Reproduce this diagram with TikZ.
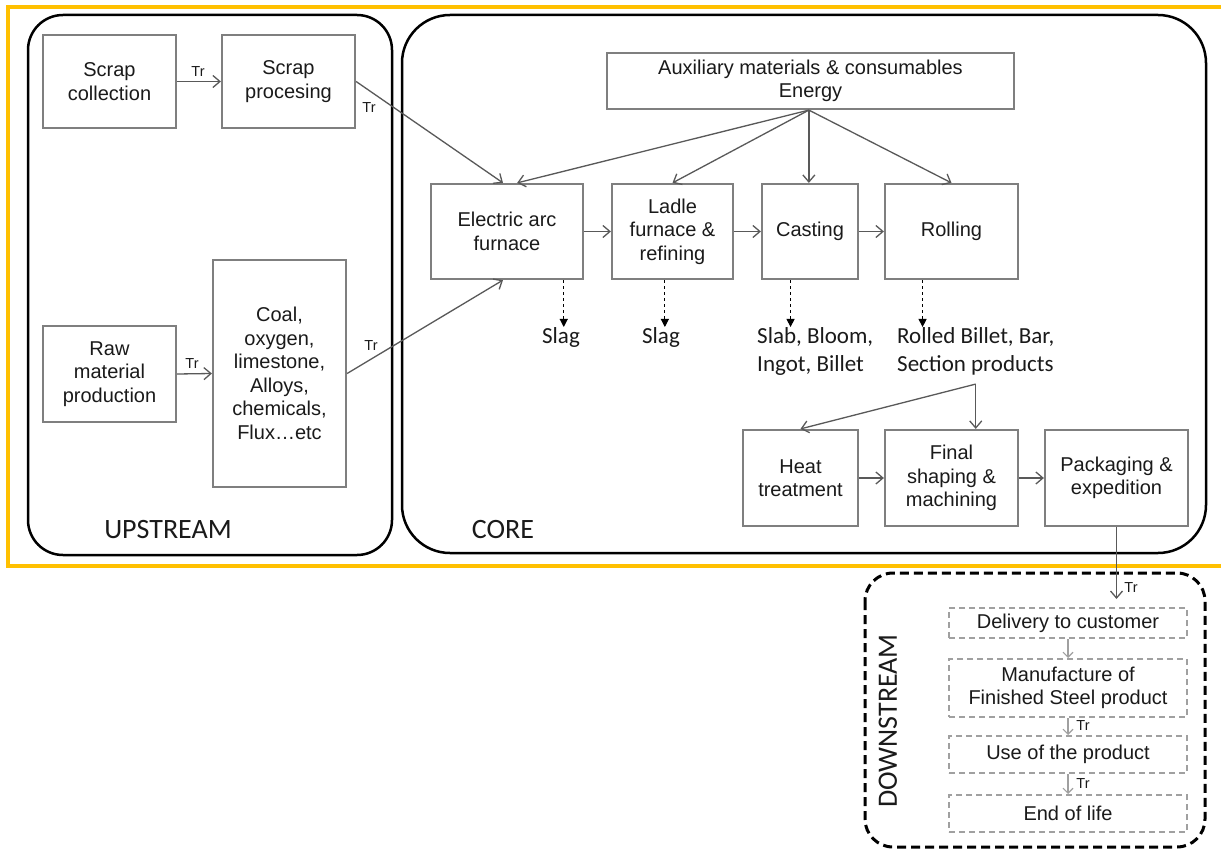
\documentclass[tikz,border=0pt]{standalone}
\usepackage{fontspec}
\setmainfont{Liberation Sans}
\newfontfamily\calfont{Carlito}
\usetikzlibrary{arrows.meta,calc}
\definecolor{orangeY}{HTML}{FFC000}
\definecolor{boxgray}{HTML}{7F7F7F}
\definecolor{linegray}{HTML}{595959}
\definecolor{lightg}{HTML}{A0A0A0}
\definecolor{txt}{HTML}{1A1A1A}
\begin{document}
\begin{tikzpicture}[x=1pt,y=-1pt,
 box/.style={draw=boxgray, line width=2.2pt, align=center, font=\fontsize{20}{23.5}\selectfont, text=txt, inner sep=1pt},
 arr/.style={draw=linegray, line width=1.3pt, -{Straight Barb[length=7pt,width=12pt,line width=1.3pt]}},
 darr/.style={draw=black, line width=1.1pt, dashed, -{Triangle[length=8pt,width=8pt]}},
 trl/.style={font=\fontsize{14.5}{16}\selectfont, text=txt, inner sep=0pt},
 cal/.style={font=\calfont\fontsize{23}{28}\selectfont, text=txt, inner sep=0pt},
 biglbl/.style={font=\calfont\fontsize{28}{32}\selectfont, text=txt, inner sep=0pt},
 regionbox/.style={draw=black, line width=2.5pt},
 dbox/.style={draw=lightg, line width=2pt, dash pattern=on 6pt off 4pt, align=center, font=\fontsize{20}{23}\selectfont, text=txt, inner sep=1pt},
 darrl/.style={draw=lightg, line width=1.1pt, -{Straight Barb[length=5pt,width=10pt,line width=1.1pt]}},
]
\fill[white] (0,0) rectangle (1221,850);
\useasboundingbox (0,0) rectangle (1221,850);

% orange frame (open at the right edge)
\draw[draw=orangeY, line width=4.5pt] (1221,7) -- (8,7) -- (8,566) -- (1221,566);

% regions
\draw[regionbox, rounded corners=35pt] (28,15) rectangle (392,555);
\draw[regionbox, rounded corners=48pt] (402,15) rectangle (1206,553);
\draw[draw=black, line width=3pt, dash pattern=on 9pt off 5pt, rounded corners=28pt] (865,573) rectangle (1205,847);

\node[biglbl] (uplbl) at (168,530) {UPSTREAM};
\node[biglbl] (corelbl) at (503,530) {CORE};
\node[biglbl, rotate=90] (dslbl) at (888,721) {DOWNSTREAM};

% upstream boxes
\node[box, minimum width=133pt, minimum height=93pt] (sc) at (109.5,81.5) {Scrap\\collection};
\node[box, minimum width=133pt, minimum height=93pt] (sp) at (288.5,81.5) {Scrap\\procesing};
\node[box, minimum width=133pt, minimum height=96pt] (raw) at (109.5,374) {Raw\\material\\production};
\node[box, minimum width=133pt, minimum height=227pt] (coal) at (279.5,373.5) {Coal,\\oxygen,\\limestone,\\Alloys,\\chemicals,\\Flux…etc};

% core boxes
\node[box, minimum width=407pt, minimum height=56pt] (aux) at (810.5,81) {Auxiliary materials \& consumables\\Energy};
\node[box, minimum width=152pt, minimum height=95pt] (eaf) at (507,231.5) {Electric arc\\furnace};
\node[box, minimum width=121pt, minimum height=95pt] (ladle) at (672.5,231.5) {Ladle\\furnace \&\\refining};
\node[box, minimum width=96pt, minimum height=95pt] (cast) at (810,231.5) {Casting};
\node[box, minimum width=133pt, minimum height=95pt] (roll) at (951.5,231.5) {Rolling};
\node[box, minimum width=115pt, minimum height=96pt] (heat) at (800.5,478) {Heat\\treatment};
\node[box, minimum width=133pt, minimum height=96pt] (final) at (951.5,478) {Final\\shaping \&\\machining};
\node[box, minimum width=143pt, minimum height=96pt] (pack) at (1116.5,478) {Packaging \&\\expedition};

% outputs
\node[cal, anchor=north] (slag1) at (561,327) {Slag};
\node[cal, anchor=north] (slag2) at (661,327) {Slag};
\node[cal, anchor=north west, align=left] (slab) at (757,327) {Slab, Bloom,\\Ingot, Billet};
\node[cal, anchor=north west, align=left] (rolled) at (897,327) {Rolled Billet, Bar,\\Section products};

% downstream boxes
\node[dbox, minimum width=238pt, minimum height=30pt] (deliv) at (1068,623) {Delivery to customer};
\node[dbox, minimum width=238pt, minimum height=58pt] (manuf) at (1068,688) {Manufacture of\\Finished Steel product};
\node[dbox, minimum width=238pt, minimum height=37pt] (use) at (1068,754.5) {Use of the product};
\node[dbox, minimum width=238pt, minimum height=37pt] (eol) at (1068,813.5) {End of life};

% upstream connectors
\draw[arr] (sc.east) -- (sp.west);
\node[trl] (tr1) at (198,72) {Tr};
\coordinate (eafin1) at ($(eaf.north west)!0.474!(eaf.north east)$);
\draw[arr] (sp.east) -- (eafin1);
\node[trl] (tr2) at (369,108) {Tr};
\draw[arr] (raw.east) -- (coal.west);
\node[trl] (tr3) at (192,364) {Tr};
\coordinate (eafin2) at ($(eaf.south west)!0.474!(eaf.south east)$);
\draw[arr] (coal.east) -- (eafin2);
\node[trl] (tr4) at (371,346) {Tr};

% auxiliary connectors
\coordinate (auxs) at ($(aux.south west)!0.496!(aux.south east)$);
\coordinate (eafin3) at ($(eaf.north west)!0.566!(eaf.north east)$);
\draw[arr] (auxs) -- (eafin3);
\draw[arr] (auxs) -- (ladle.north);
\draw[arr] (auxs) -- (auxs |- cast.north);
\draw[arr] (auxs) -- (roll.north);

% main chain
\draw[arr] (eaf.east) -- (ladle.west);
\draw[arr] (ladle.east) -- (cast.west);
\draw[arr] (cast.east) -- (roll.west);

% dashed outputs
\coordinate (d1) at ($(eaf.south west)!0.868!(eaf.south east)$);
\draw[darr] (d1) -- (d1 |- slag1.north);
\coordinate (d2) at ($(ladle.south west)!0.438!(ladle.south east)$);
\draw[darr] (d2) -- (d2 |- slag2.north);
\coordinate (d3) at ($(cast.south west)!0.302!(cast.south east)$);
\draw[darr] (d3) -- (d3 |- slab.north);
\coordinate (d4) at ($(roll.south west)!0.286!(roll.south east)$);
\draw[darr] (d4) -- (d4 |- rolled.north);

% finishing
\coordinate (apex) at ($(rolled.south)+(0,9)$);
\draw[arr] (apex) -- (apex |- final.north);
\draw[arr] (apex) -- (heat.north);
\draw[arr] (heat.east) -- (final.west);
\draw[arr] (final.east) -- (pack.west);

% downstream connectors
\draw[arr, shorten >=8pt] (pack.south) -- (pack.south |- deliv.north);
\node[trl] (tr5) at (1131,588) {Tr};
\draw[darrl] (deliv.south) -- (manuf.north);
\draw[darrl] (manuf.south) -- (use.north);
\node[trl] (tr6) at (1083,726) {Tr};
\draw[darrl] (use.south) -- (eol.north);
\node[trl] (tr7) at (1083,784) {Tr};
\end{tikzpicture}
\end{document}
